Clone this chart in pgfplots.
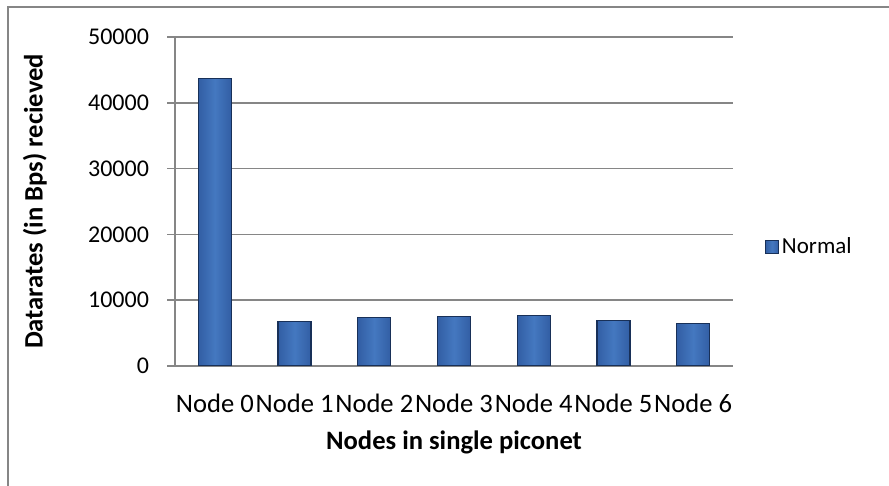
\documentclass[border=0pt]{standalone}
\usepackage{fontspec}
\setmainfont{Carlito}
\usepackage{pgfplots}
\pgfplotsset{compat=1.18}
\definecolor{barMid}{RGB}{68,120,192}
\definecolor{barEdge}{RGB}{50,94,164}
\definecolor{barLine}{RGB}{24,48,88}
\definecolor{gridGray}{RGB}{134,134,134}

\begin{document}
\begin{tikzpicture}[x=1pt,y=1pt]
\useasboundingbox (0,0) rectangle (444.5,243);
\draw[gridGray,line width=0.8pt] (4,0) -- (4,239.5) -- (444.5,239.5);
\begin{axis}[at={(87.5pt,60pt)},anchor=south west,scale only axis,width=279pt,height=164.5pt,
  ymin=0,ymax=50000,ytick={0,10000,...,50000},
  xmin=-0.5,xmax=6.5,xtick={0,...,6},
  xticklabels={Node 0,Node 1,Node 2,Node 3,Node 4,Node 5,Node 6},
  ymajorgrids,grid style={gridGray,line width=0.75pt},
  axis x line*=bottom,axis y line*=left,axis line style={gridGray,line width=0.75pt,-},
  tick align=outside,major tick length=4pt,
  y tick style={gridGray,line width=0.75pt},x tick style={draw=none},
  scaled y ticks=false,
  yticklabel style={/pgf/number format/fixed,/pgf/number format/1000 sep={},/pgf/number format/assume math mode=true,font=\fontsize{12}{14}\selectfont,xshift=-5.5pt},
  xticklabel style={font=\fontsize{13.3}{15}\selectfont,yshift=-6.5pt},
  xlabel={Nodes in single piconet},ylabel={Datarates (in Bps) recieved},
  xlabel style={font=\fontsize{13.3}{15}\selectfont\bfseries,at={(axis description cs:0.5,0)},anchor=north,inner sep=0pt,yshift=-32pt},
  ylabel style={font=\fontsize{13.3}{15}\selectfont\bfseries,at={(axis description cs:-0.251,0.5)},anchor=center},
  legend style={draw=none,at={(1.057,0.362)},anchor=west,font=\fontsize{11.5}{14}\selectfont,inner sep=0pt,nodes={inner xsep=1.5pt}},
  legend image code/.code={\draw[barLine,line width=0.4pt,fill=barMid] (0pt,-3.25pt) rectangle (6.5pt,3.25pt);},
  nbar/.style={ybar,bar shift=0pt,bar width=16.5pt,draw=barLine,line width=0.6pt,left color=barEdge,right color=barEdge,middle color=barMid},
]
\addplot[nbar] coordinates {(0,43700)};
\addlegendentry{Normal}
\addplot[nbar,forget plot] coordinates {(1,6800)};
\addplot[nbar,forget plot] coordinates {(2,7400)};
\addplot[nbar,forget plot] coordinates {(3,7550)};
\addplot[nbar,forget plot] coordinates {(4,7700)};
\addplot[nbar,forget plot] coordinates {(5,6950)};
\addplot[nbar,forget plot] coordinates {(6,6500)};
\end{axis}
\end{tikzpicture}
\end{document}
